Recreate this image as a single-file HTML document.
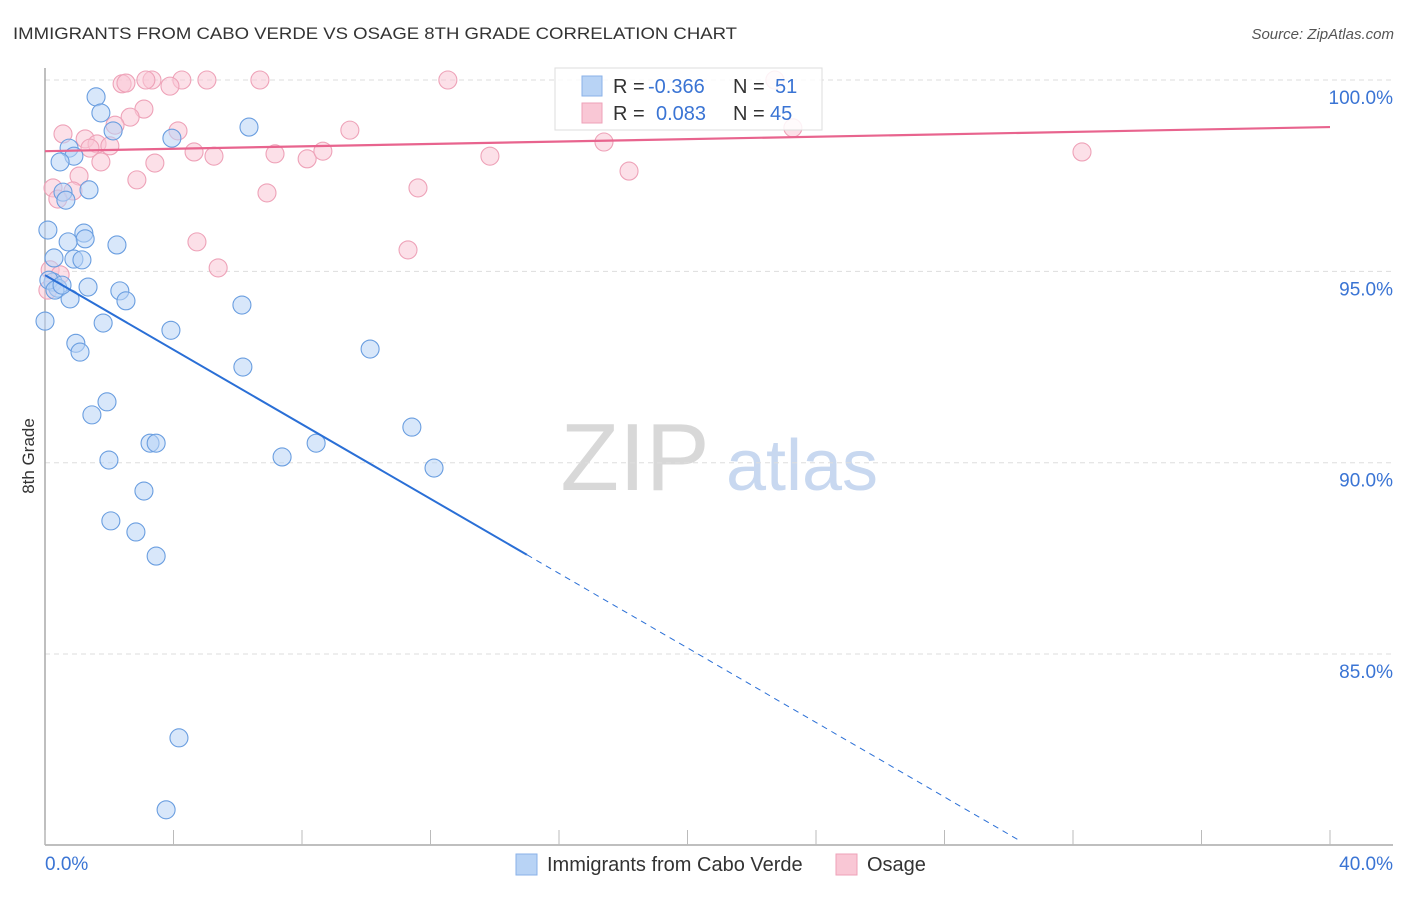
<!DOCTYPE html>
<html><head><meta charset="utf-8"><style>
body{margin:0;background:#fff;font-family:"Liberation Sans",sans-serif;}
svg text{font-family:"Liberation Sans",sans-serif;}
</style></head><body>
<svg id="chart" width="1406" height="892" viewBox="0 0 1406 892" xmlns="http://www.w3.org/2000/svg">
<text x="13" y="39" font-size="17" fill="#333" textLength="724" lengthAdjust="spacingAndGlyphs">IMMIGRANTS FROM CABO VERDE VS OSAGE 8TH GRADE CORRELATION CHART</text>
<text x="1394" y="39" font-size="15" fill="#555" text-anchor="end" font-style="italic">Source: ZipAtlas.com</text>
<text transform="translate(34,456) rotate(-90)" font-size="17" fill="#333" text-anchor="middle">8th Grade</text>
<g>
<text x="635" y="490" font-size="96" fill="#d8d8d8" text-anchor="middle" font-family="Liberation Serif,serif">ZIP</text>
<text x="802" y="490" font-size="72" fill="#c8d8f0" text-anchor="middle">atlas</text>
</g>
<g id="grid"></g>
<g id="axes"></g>
<g id="pts"></g>
<g id="trend"></g>
<g>
<rect x="555" y="68" width="267" height="62" fill="#fff" fill-opacity="0.85" stroke="#ddd"/>
<rect x="582" y="76" width="20" height="20" fill="#b8d3f5" stroke="#8ab2e8"/>
<text x="613" y="93" font-size="20" fill="#333">R =</text>
<text x="648" y="93" font-size="20" fill="#3a74d4">-0.366</text>
<text x="733" y="93" font-size="20" fill="#333">N =</text>
<text x="775" y="93" font-size="20" fill="#3a74d4">51</text>
<rect x="582" y="103" width="20" height="20" fill="#f9c7d5" stroke="#eea2b8"/>
<text x="613" y="120" font-size="20" fill="#333">R =</text>
<text x="656" y="120" font-size="20" fill="#3a74d4">0.083</text>
<text x="733" y="120" font-size="20" fill="#333">N =</text>
<text x="770" y="120" font-size="20" fill="#3a74d4">45</text>
</g>
<g>
<rect x="516" y="854" width="21" height="21" fill="#b8d3f5" stroke="#8ab2e8"/>
<text x="547" y="871" font-size="20" fill="#333">Immigrants from Cabo Verde</text>
<rect x="836" y="854" width="21" height="21" fill="#f9c7d5" stroke="#eea2b8"/>
<text x="867" y="871" font-size="20" fill="#333">Osage</text>
</g>
</svg>
<script>
const blueX=[1.59,1.74,2.12,6.35,3.95,0.75,0.90,0.47,0.56,1.37,0.65,0.09,1.21,1.25,0.72,2.24,0.28,0.90,1.15,0.25,0.40,1.34,2.33,2.52,0.78,6.13,1.81,0.0,3.92,0.96,1.09,10.12,6.16,1.93,1.46,11.42,3.27,3.46,8.44,7.38,1.99,12.11,3.08,2.05,2.83,3.46,4.17,3.77,0.12,0.31,0.53];
const blueY=[99.56,99.14,98.67,98.77,98.48,98.22,98.01,97.86,97.07,97.13,96.86,96.08,96.00,95.85,95.77,95.69,95.35,95.32,95.30,94.72,94.56,94.59,94.49,94.23,94.28,94.12,93.65,93.70,93.46,93.12,92.89,92.97,92.50,91.59,91.25,90.93,90.51,90.51,90.51,90.15,90.07,89.86,89.26,88.48,88.19,87.56,82.81,80.93,94.77,94.51,94.64];
const pinkX=[12.54,6.69,5.04,4.26,3.33,3.14,2.40,2.52,3.89,3.08,2.65,2.18,0.56,1.25,1.62,2.02,4.14,9.49,17.40,23.28,1.40,4.64,5.26,7.16,8.16,8.65,13.85,32.28,1.74,3.42,1.06,2.86,0.25,0.87,0.40,6.91,11.61,18.18,11.30,4.73,5.39,0.16,0.47,22.72,0.09];
const pinkY=[100,100,100,100,100,100,99.90,99.92,99.84,99.24,99.03,98.82,98.59,98.46,98.33,98.28,98.67,98.69,98.38,98.75,98.22,98.12,98.01,98.07,97.94,98.14,98.01,98.12,97.86,97.83,97.49,97.39,97.18,97.10,96.89,97.05,97.18,97.62,95.56,95.77,95.09,95.04,94.91,100,94.51];
const yTicks=[100,95,90,85];
const yTickLabels=["100.0%","95.0%","90.0%","85.0%"];
const blueTrend=[94.90,-0.487];
const pinkTrend=[98.14,0.01575];
const NS="http://www.w3.org/2000/svg";
const sx=v=>45+v*32.125;
const sy=v=>80+(100-v)*38.27;
function mk(tag,attrs,parent){const e=document.createElementNS(NS,tag);for(const k in attrs)e.setAttribute(k,attrs[k]);parent.appendChild(e);return e;}
const grid=document.getElementById('grid'),axes=document.getElementById('axes'),pts=document.getElementById('pts'),trend=document.getElementById('trend');
yTicks.forEach((t,i)=>{
 const l=mk('line',{x1:45,x2:1393,y1:sy(t),y2:sy(t),stroke:'#ddd','stroke-dasharray':'5,4'},grid);
 
 
 const tx=mk('text',{x:1393,y:sy(t)+24,'font-size':19,fill:'#3a74d4','text-anchor':'end'},grid);
 tx.textContent=yTickLabels[i];
 
 
});
let a=mk('line',{x1:45,x2:45,y1:68,y2:845,stroke:'#aaa','stroke-width':1.5},axes);


a=mk('line',{x1:45,x2:1393,y1:845,y2:845,stroke:'#aaa','stroke-width':1.5},axes);


for(let v=0;v<=40;v+=4){const t=mk('line',{x1:sx(v),x2:sx(v),y1:830,y2:845,stroke:'#bbb'},axes);
 
 }
[[0,'0.0%','start',45],[40,'40.0%','end',1393]].forEach(d=>{const t=mk('text',{x:d[3],y:870,'font-size':19,fill:'#3a74d4','text-anchor':d[2]},axes);t.textContent=d[1];
 
 });
pinkX.forEach((x,i)=>{const c=mk('circle',{cx:sx(x),cy:sy(pinkY[i]),r:9,fill:'#f9c7d5','fill-opacity':0.55,stroke:'#eea2b8','stroke-width':1.1},pts);
 
 });
blueX.forEach((x,i)=>{const c=mk('circle',{cx:sx(x),cy:sy(blueY[i]),r:9,fill:'#b8d3f5','fill-opacity':0.55,stroke:'#6a9ee0','stroke-width':1.1},pts);
 
 });
const by=x=>blueTrend[0]+blueTrend[1]*x, py=x=>pinkTrend[0]+pinkTrend[1]*x;
let t=mk('line',{x1:sx(0),y1:sy(by(0)),x2:sx(15),y2:sy(by(15)),stroke:'#2a6fd6','stroke-width':2},trend);


t=mk('line',{x1:sx(15),y1:sy(by(15)),x2:sx(30.4),y2:sy(by(30.4)),stroke:'#2a6fd6','stroke-width':1,'stroke-dasharray':'6,5'},trend);


t=mk('line',{x1:sx(0),y1:sy(py(0)),x2:sx(40),y2:sy(py(40)),stroke:'#e8648e','stroke-width':2.2},trend);


</script>
</body></html>
